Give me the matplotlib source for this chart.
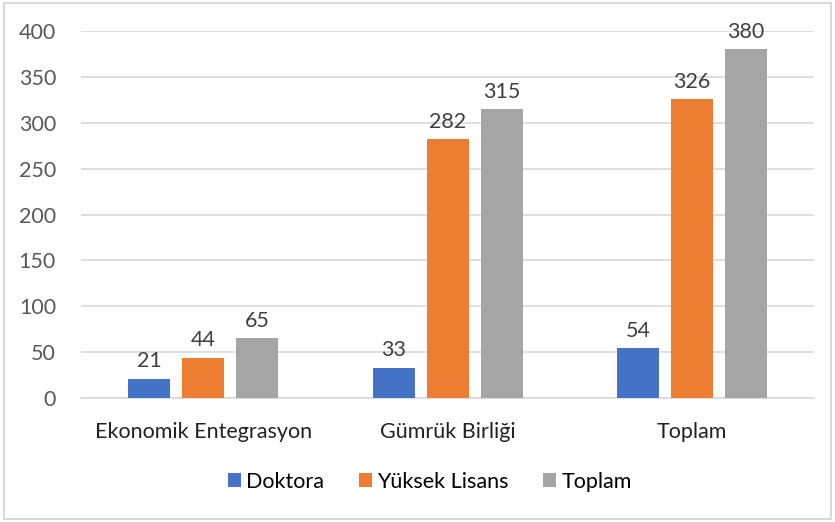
import matplotlib.pyplot as plt
import numpy as np
from matplotlib.patches import Rectangle

plt.rcParams['font.family'] = ['Lato', 'DejaVu Sans']

categories = ['Ekonomik Entegrasyon', 'Gümrük Birliği', 'Toplam']
series = ['Doktora', 'Yüksek Lisans', 'Toplam']
doktora = [21, 33, 54]
yuksek_lisans = [44, 282, 326]
toplam = [65, 315, 380]
colors = ['#4472C4', '#ED7D31', '#A5A5A5']

fig = plt.figure(figsize=(8.35, 5.22), dpi=100)
ax = fig.add_axes([0.097, 0.2375, 0.878, 0.703])

x = np.arange(len(categories))
w = 0.172
step = 0.221
for i, (name, vals, c) in enumerate(zip(series, [doktora, yuksek_lisans, toplam], colors)):
    bars = ax.bar(x + (i - 1) * step, vals, w, color=c, label=name, zorder=3)
    for b, v in zip(bars, vals):
        ax.text(b.get_x() + b.get_width() / 2, v + 8, str(v), ha='center', va='bottom',
                fontsize=15.5, color='#404040')

ax.set_xlim(-0.5, 2.5)
ax.set_ylim(0, 400)
ax.set_yticks(np.arange(0, 401, 50))
ax.set_xticks(x)
ax.set_xticklabels(categories, fontsize=15.5, color='#222222')
ax.tick_params(axis='y', labelsize=15.5, labelcolor='#595959', length=0, pad=18)
ax.tick_params(axis='x', length=0, pad=17)
ax.grid(axis='y', color='#D9D9D9', linewidth=1.2, zorder=0)
for s in ['top', 'right', 'left']:
    ax.spines[s].set_visible(False)
ax.spines['bottom'].set_color('#D9D9D9')
ax.spines['bottom'].set_linewidth(1.2)

fig.legend(loc='center', bbox_to_anchor=(0.515, 0.077), ncol=3, frameon=False,
           fontsize=15.5, handlelength=0.6, handleheight=0.6, handletextpad=0.25,
           columnspacing=1.6)

fig.patches.append(Rectangle((0.005, 0.005), 0.99, 0.99, transform=fig.transFigure,
                             fill=False, edgecolor='#D9D9D9', linewidth=1.5))

fig.savefig('out.png', dpi=100)
